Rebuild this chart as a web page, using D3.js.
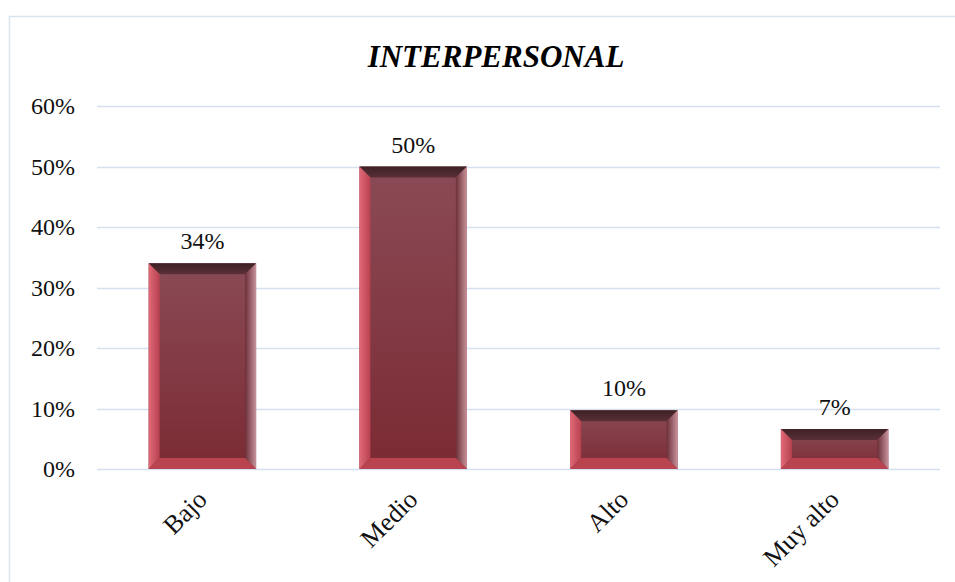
<!DOCTYPE html>
<html>
<head>
<meta charset="utf-8">
<script src="https://cdn.jsdelivr.net/npm/d3@7/dist/d3.min.js"></script>
<style>
  body { margin: 0; background: #fff; }
  svg text { font-family: "Liberation Serif", "DejaVu Serif", serif; }
</style>
</head>
<body>
<div id="chart"></div>
<script>
// datos del grafico
var categories = ["Bajo", "Medio", "Alto", "Muy alto"];
var values = [0.34, 0.50, 0.097, 0.066];
var yTicks = [0, 0.1, 0.2, 0.3, 0.4, 0.5, 0.6];
var title = "INTERPERSONAL";

var W = 955, H = 582;
var margin = { top: 106, right: 15, bottom: 113, left: 97 };

var svg = d3.select("#chart").append("svg").attr("width", W).attr("height", H);

/** marco del grafico */
svg.append("rect")
    .attr("x", 9.5).attr("y", 16.5)
    .attr("width", W + 20).attr("height", H + 20)
    .attr("fill", "none").attr("stroke", "#d9e4f1").attr("stroke-width", 1.5);

var x = d3.scaleBand().domain(categories)
    .range([margin.left, W - margin.right]).paddingInner(0.49).paddingOuter(0.245);
var y = d3.scaleLinear().domain([0, 0.6]).range([H - margin.bottom, margin.top]);

/** lineas de cuadricula */
svg.append("g").selectAll("line").data(yTicks).enter().append("line")
    .attr("x1", margin.left).attr("x2", W - margin.right)
    .attr("y1", function (d) { return Math.round(y(d)) + 0.5; })
    .attr("y2", function (d) { return Math.round(y(d)) + 0.5; })
    .attr("stroke", "#d5e1f0").attr("stroke-width", 1.5);

var yAxis = svg.append("g")
    .attr("transform", "translate(" + 75 + ",0)")
    .call(d3.axisLeft(y).tickValues(yTicks).tickFormat(d3.format(".0%")).tickSize(0).tickPadding(0));
yAxis.select(".domain").remove();
yAxis.selectAll("text").attr("font-size", 24).attr("fill", "#111")
    .style("font-family", "'Liberation Serif', serif");

/** degradados */
var defs = svg.append("defs");
var g1 = defs.append("linearGradient").attr("id", "face").attr("x1", 0).attr("y1", 0).attr("x2", 0).attr("y2", 1);
g1.append("stop").attr("offset", "0%").attr("stop-color", "#8a4b56");
g1.append("stop").attr("offset", "100%").attr("stop-color", "#7b2a33");
var g2 = defs.append("linearGradient").attr("id", "right").attr("x1", 0).attr("y1", 0).attr("x2", 1).attr("y2", 0);
g2.append("stop").attr("offset", "0%").attr("stop-color", "#6b2f38");
g2.append("stop").attr("offset", "100%").attr("stop-color", "#c9939c");
var g3 = defs.append("linearGradient").attr("id", "left").attr("x1", 0).attr("y1", 0).attr("x2", 1).attr("y2", 0);
g3.append("stop").attr("offset", "0%").attr("stop-color", "#e06a78");
g3.append("stop").attr("offset", "100%").attr("stop-color", "#b8414f");
var g4 = defs.append("linearGradient").attr("id", "top").attr("x1", 0).attr("y1", 0).attr("x2", 0).attr("y2", 1);
g4.append("stop").attr("offset", "0%").attr("stop-color", "#3d2125");
g4.append("stop").attr("offset", "100%").attr("stop-color", "#5a3038");

var bev = 11;
var bars = svg.append("g").selectAll("g").data(values).enter().append("g");

bars.each(function (d, i) {
    var g = d3.select(this);
    var x0 = x(categories[i]), x1 = x0 + x.bandwidth();
    var y0 = y(d), y1 = y(0);
    var b = Math.min(bev, (y1 - y0) / 2.6);
    g.append("rect").attr("x", x0).attr("y", y0).attr("width", x1 - x0).attr("height", y1 - y0)
        .attr("fill", "url(#face)");
    // bisel superior
    g.append("polygon").attr("points", [[x0, y0], [x1, y0], [x1 - b, y0 + b], [x0 + b, y0 + b]].join(" "))
        .attr("fill", "url(#top)");
    // bisel izquierdo
    g.append("polygon").attr("points", [[x0, y0], [x0 + b, y0 + b], [x0 + b, y1 - b], [x0, y1]].join(" "))
        .attr("fill", "url(#left)");
    // bisel derecho
    g.append("polygon").attr("points", [[x1, y0], [x1, y1], [x1 - b, y1 - b], [x1 - b, y0 + b]].join(" "))
        .attr("fill", "url(#right)");
    // bisel inferior
    g.append("polygon").attr("points", [[x0, y1], [x0 + b, y1 - b], [x1 - b, y1 - b], [x1, y1]].join(" "))
        .attr("fill", "#b9434f");
});

/** etiquetas de valor */
svg.append("g").selectAll("text").data(values).enter().append("text")
    .attr("x", function (d, i) { return x(categories[i]) + x.bandwidth() / 2; })
    .attr("y", function (d) { return y(d) - 14; })
    .attr("text-anchor", "middle").attr("font-size", 24).attr("fill", "#111")
    .text(function (d) { return d3.format(".0%")(d); });

/** etiquetas de categoria */
svg.append("g").selectAll("text").data(categories).enter().append("text")
    .attr("transform", function (d) {
        return "translate(" + (x(d) + x.bandwidth() / 2 + 6) + "," + (y(0) + 32) + ") rotate(-45)";
    })
    .attr("text-anchor", "end").attr("font-size", 26).attr("fill", "#111")
    .text(function (d) { return d; });

svg.append("text").attr("x", 496).attr("y", 67).attr("text-anchor", "middle")
    .attr("font-size", 31).attr("font-weight", "bold").attr("font-style", "italic").attr("fill", "#000")
    .text(title);
</script>
</body>
</html>
